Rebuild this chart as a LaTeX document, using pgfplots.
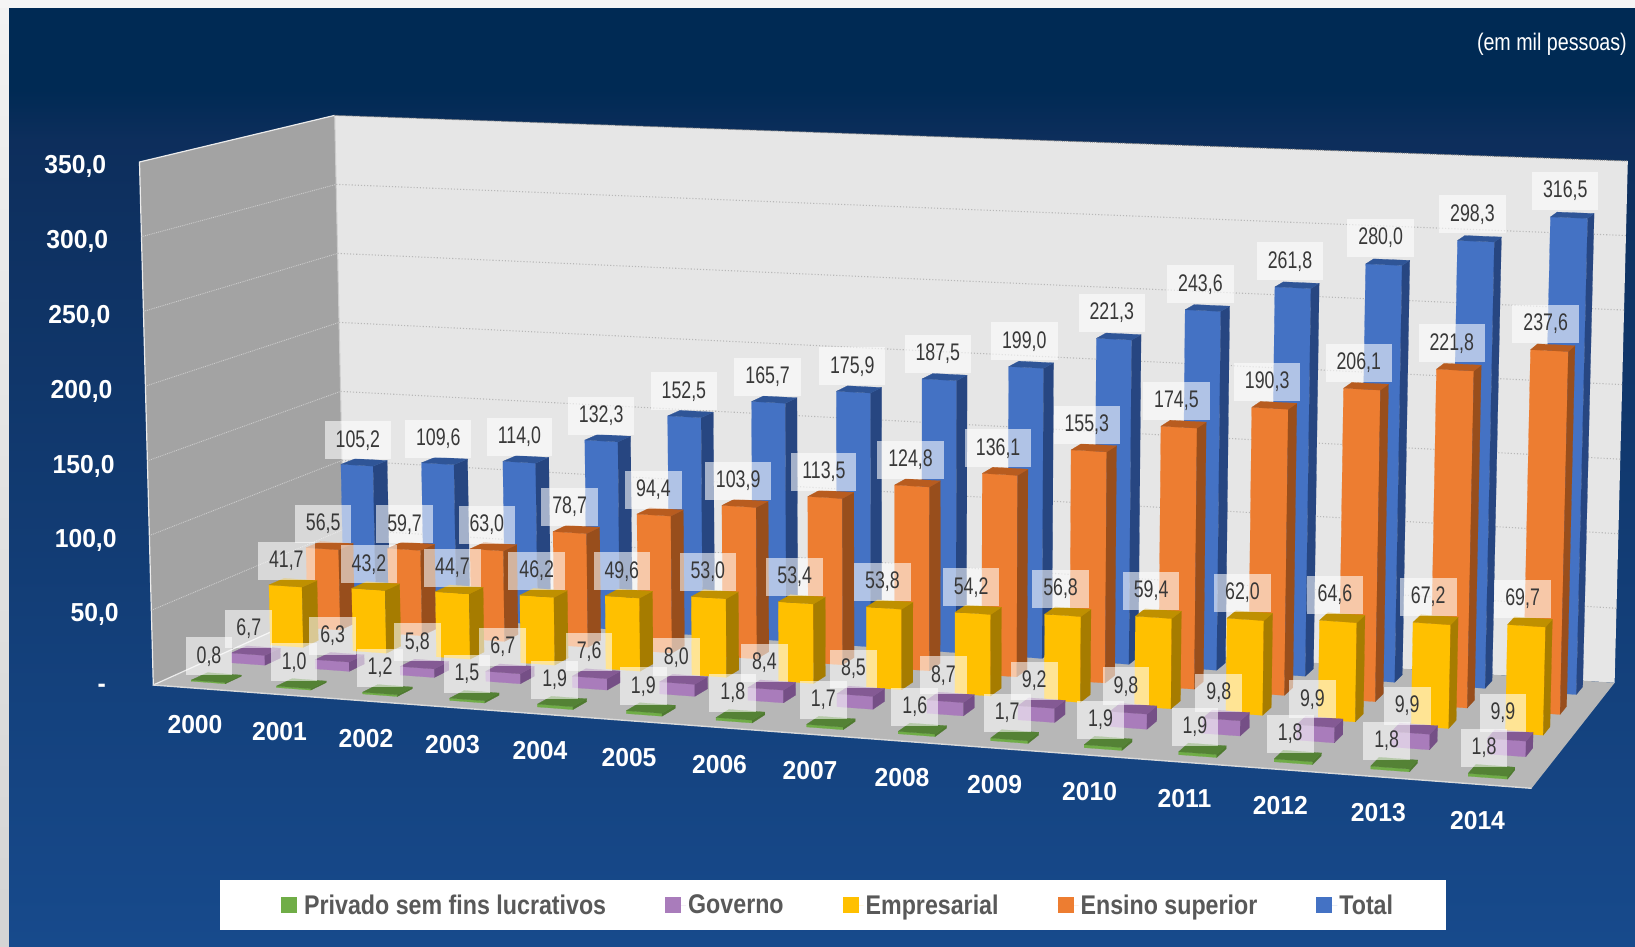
\documentclass[border=0pt]{standalone}
\usepackage{pgfplots}
\usepackage{pgfplotstable}
\usepackage{fontspec}
\pgfplotsset{compat=1.18}
\setmainfont{Liberation Sans}
\newfontfamily\labfont{Liberation Sans}[FakeStretch=0.74]
\newfontfamily\tickfont{Liberation Sans}[FakeStretch=0.95]
\newfontfamily\legfont{Liberation Sans}[FakeStretch=0.86]
\newfontfamily\unitfont{Liberation Sans}[FakeStretch=0.82]
\definecolor{f4}{HTML}{4472C4}\definecolor{s4}{HTML}{274681}\definecolor{t4}{HTML}{2F5597}
\definecolor{f3}{HTML}{ED7D31}\definecolor{s3}{HTML}{984E1C}\definecolor{t3}{HTML}{B85C1F}
\definecolor{f2}{HTML}{FFC000}\definecolor{s2}{HTML}{A67C00}\definecolor{t2}{HTML}{BF9000}
\definecolor{f1}{HTML}{A97CBB}\definecolor{s1}{HTML}{754F86}\definecolor{t1}{HTML}{845A94}
\definecolor{f0}{HTML}{70AD47}\definecolor{s0}{HTML}{4F7A30}\definecolor{t0}{HTML}{548235}
\tikzset{
  lab/.style={fill=white,fill opacity=0.58,text opacity=1,text=black!78,inner xsep=11pt,inner ysep=0pt,
    minimum height=38pt,font=\labfont\fontsize{24}{24}\selectfont},
  tl/.style={text=white,inner sep=0pt,font=\tickfont\bfseries\fontsize{26}{26}\selectfont},
}
\pgfplotstableread{
year privado governo empresarial ensino total
2000 0.8 6.7 41.7 56.5 105.2
2001 1.0 6.3 43.2 59.7 109.6
2002 1.2 5.8 44.7 63.0 114.0
2003 1.5 6.7 46.2 78.7 132.3
2004 1.9 7.6 49.6 94.4 152.5
2005 1.9 8.0 53.0 103.9 165.7
2006 1.8 8.4 53.4 113.5 175.9
2007 1.7 8.5 53.8 124.8 187.5
2008 1.6 8.7 54.2 136.1 199.0
2009 1.7 9.2 56.8 155.3 221.3
2010 1.9 9.8 59.4 174.5 243.6
2011 1.9 9.8 62.0 190.3 261.8
2012 1.8 9.9 64.6 206.1 280.0
2013 1.8 9.9 67.2 221.8 298.3
2014 1.8 9.9 69.7 237.6 316.5
}\rdata
% perspective projection: category position X (0-1), depth D (0-1), value V (0-350)
\newcommand\proj[5]{%
 \pgfmathsetmacro\pw{1-0.075*#1+0.0929*#2}%
 \pgfmathsetmacro\pfx{(153.3+1263.5*#1+223.7*#2+3*#1*#2)/\pw}%
 \pgfmathsetmacro\pfy{(685+44.2*#1-31*#2-3.2*#1*#2)/\pw}%
 \pgfmathsetmacro\ph{523/\pw+8*#1*#2+4.5*(1-#1)*#2}%
 \pgfmathsetmacro\pv{#3/350}%
 \pgfmathsetmacro#4{\pfx+0.0185*(\pfx-900)*\pv}%
 \pgfmathsetmacro#5{\pfy-\ph*\pv}%
}
\begin{document}
\begin{tikzpicture}[x=1pt,y=1pt]
\useasboundingbox (0,0) rectangle (1635,946);
\fill[white!88!black] (0,0) rectangle (1635,946);
\shade[top color=white!95!black,bottom color=white!83!black] (0,0) rectangle (9,946);
\fill[white!96!black] (0,938) rectangle (1635,946);
\fill[fill={rgb,255:red,0;green,42;blue,84}] (9,856) rectangle (1635,938);
\shade[top color={rgb,255:red,0;green,42;blue,84},bottom color={rgb,255:red,13;green,46;blue,92}] (9,806) rectangle (1635,856);
\shade[top color={rgb,255:red,13;green,46;blue,92},bottom color={rgb,255:red,23;green,74;blue,140}] (9,0) rectangle (1635,806);
\begin{axis}[at={(0pt,0pt)},anchor=south west,scale only axis,width=1635pt,height=946pt,
  xmin=0,xmax=1635,ymin=0,ymax=946,y dir=reverse,hide axis,clip=false,
  /pgf/number format/.cd,fixed,fixed zerofill,precision=1,use comma,1000 sep={},assume math mode=true,/pgfplots/.cd,
  legend columns=5,
  legend image code/.code={\fill[#1,draw=none] (0pt,-8pt) rectangle (16pt,8pt);\path[draw=none] (0pt,0pt)--(21pt,0pt);},
  legend style={at={(axis cs:220,880)},anchor=north west,draw=none,fill=white,
    inner xsep=51pt,inner ysep=12.5pt,font=\legfont\bfseries\fontsize{27}{27}\selectfont,text=black!65,
    /tikz/every even column/.append style={column sep=57pt}},
]
% walls and floor
\proj{0}{0}{0}\xa\ya \proj{1}{0}{0}\xb\yb \proj{1}{1}{0}\xc\yc \proj{0}{1}{0}\xd\yd
\proj{0}{0}{350}\xe\ye \proj{1}{1}{350}\xg\yg \proj{0}{1}{350}\xh\yh
\addplot[fill={rgb,255:red,163;green,163;blue,163},draw=none,forget plot] coordinates {(\xa,\ya)(\xd,\yd)(\xh,\yh)(\xe,\ye)(\xa,\ya)};
\addplot[fill={rgb,255:red,230;green,230;blue,230},draw=none,forget plot] coordinates {(\xd,\yd)(\xc,\yc)(\xg,\yg)(\xh,\yh)(\xd,\yd)};
\addplot[fill={rgb,255:red,183;green,183;blue,183},draw=none,forget plot] coordinates {(\xa,\ya)(\xb,\yb)(\xc,\yc)(\xd,\yd)(\xa,\ya)};
\addplot[white!92!black,line width=1.2pt,forget plot] coordinates {(\xd,\yd)(\xa,\ya)(\xe,\ye)(\xh,\yh)};
\addplot[white!80!black,line width=1pt,forget plot] coordinates {(\xh,\yh)(\xd,\yd)};
\addplot[white!85!black,line width=1.4pt,forget plot] coordinates {(\xa,\ya)(\xb,\yb)};
\addplot[black!50,densely dotted,line width=1pt,forget plot] coordinates {(\xh,\yh)(\xg,\yg)};
% gridlines
\foreach \v in {50,100,...,300}{
  \proj{0}{0}{\v}\xa\ya \proj{0}{1}{\v}\xd\yd \proj{1}{1}{\v}\xc\yc
  \addplot[white!80!black,densely dotted,line width=.9pt,forget plot] coordinates {(\xa,\ya)(\xd,\yd)};
  \addplot[black!28,dotted,line width=1.1pt,forget plot] coordinates {(\xd,\yd)(\xc,\yc)};
}
% bars, back to front, left to right
\foreach \k/\col in {4/total,3/ensino,2/empresarial,1/governo,0/privado}{
  \foreach \i in {0,...,14}{
    \pgfplotstablegetelem{\i}{\col}\of\rdata
    \let\val\pgfplotsretval
    \pgfmathsetmacro\Xa{(\i+0.3)/15}\pgfmathsetmacro\Xb{(\i+0.7)/15}
    \pgfmathsetmacro\Da{(\k+0.3)/5}\pgfmathsetmacro\Db{(\k+0.7)/5}
    \proj{\Xa}{\Da}{0}\ax\ay \proj{\Xb}{\Da}{0}\bx\by \proj{\Xb}{\Db}{0}\cx\cy
    \proj{\Xa}{\Da}{\val}\dx\dy \proj{\Xb}{\Da}{\val}\ex\ey \proj{\Xb}{\Db}{\val}\gx\gy \proj{\Xa}{\Db}{\val}\hx\hy
    \edef\cmd{\noexpand\addplot[fill=f\k,draw=f\k,line width=.2pt,forget plot] coordinates {(\ax,\ay)(\bx,\by)(\ex,\ey)(\dx,\dy)(\ax,\ay)};
      \noexpand\addplot[fill=s\k,draw=s\k,line width=.2pt,forget plot] coordinates {(\bx,\by)(\cx,\cy)(\gx,\gy)(\ex,\ey)(\bx,\by)};
      \noexpand\addplot[fill=t\k,draw=t\k,line width=.2pt,forget plot] coordinates {(\dx,\dy)(\ex,\ey)(\gx,\gy)(\hx,\hy)(\dx,\dy)};}
    \cmd
  }
}
% data labels
\foreach \k/\col in {4/total,3/ensino,2/empresarial,1/governo,0/privado}{
  \foreach \i in {0,...,14}{
    \pgfplotstablegetelem{\i}{\col}\of\rdata
    \let\val\pgfplotsretval
    \pgfmathsetmacro\Xc{(\i+0.5)/15}
    \pgfmathsetmacro\Da{(\k+0.3)/5}
    \proj{\Xc}{\Da}{\val}\lx\ly
    \pgfmathsetmacro\lx{\lx+1-5*\Xc}
    \pgfmathsetmacro\ly{\ly-25-2*\Xc}
    \edef\cmd{\noexpand\node[lab] at (axis cs:\lx,\ly) {\noexpand\pgfmathprintnumber{\val}};}
    \cmd
  }
}
% value axis labels
\foreach \yy/\xx/\t in {166/106.4/{350,0},241/108.4/{300,0},316/110.5/{250,0},391/112.6/{200,0},466/114.7/{150,0},540/116.8/{100,0},614/118.9/{50,0},688/106/{-}}{
  \edef\cmd{\noexpand\node[tl,anchor=east] at (axis cs:\xx,\yy) {\t};}
  \cmd
}
% category labels
\foreach \xx/\yy/\t in {195/724.7/2000,279.5/732/2001,366/738.2/2002,452.5/744.5/2003,540/750.7/2004,629/758/2005,719.5/764.3/2006,810/770.5/2007,902/777.9/2008,994.7/784.1/2009,1089.6/791.4/2010,1184.5/798.7/2011,1280.4/806/2012,1378.4/812.3/2013,1477.5/820.6/2014}{
  \edef\cmd{\noexpand\node[tl] at (axis cs:\xx,\yy) {\t};}
  \cmd
}
\node[anchor=east,text=white,inner sep=0pt,font=\unitfont\fontsize{24}{24}\selectfont] at (axis cs:1627,44) {(em mil pessoas)};
\addlegendimage{legend image code/.code={\fill[f0,draw=none] (0pt,-8pt) rectangle (16pt,8pt);\path[draw=none] (-10pt,0pt)--(21pt,0pt);}}\addlegendentry{Privado sem fins lucrativos}
\addlegendimage{fill=f1}\addlegendentry{Governo}
\addlegendimage{fill=f2}\addlegendentry{Empresarial}
\addlegendimage{fill=f3}\addlegendentry{Ensino superior}
\addlegendimage{fill=f4}\addlegendentry{Total}
\end{axis}
\end{tikzpicture}
\end{document}
